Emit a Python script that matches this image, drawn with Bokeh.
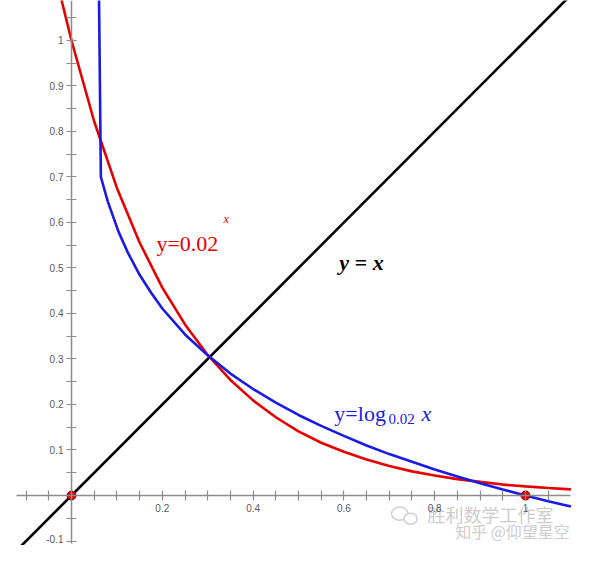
from bokeh.plotting import figure
from bokeh.models import LinearAxis, FixedTicker, Range1d
from bokeh.embed import file_html
from bokeh.resources import INLINE
from bokeh.core.properties import value

# ---- data ----
x_major_ticks = [0.2, 0.4, 0.6, 0.8, 1.0]
x_minor_ticks = [-0.1, -0.05, 0.05, 0.1, 0.15, 0.25, 0.3, 0.35, 0.45, 0.5, 0.55,
                 0.65, 0.7, 0.75, 0.85, 0.9, 0.95, 1.05]
y_major_ticks = [0.1, 0.2, 0.3, 0.4, 0.5, 0.6, 0.7, 0.8, 0.9, 1.0]
y_minor_ticks = [-0.1, -0.05, 0.05, 0.15, 0.25, 0.35, 0.45, 0.55, 0.65, 0.75, 0.85, 0.95, 1.05]
y_low_tick = [-0.1]
y_low_label = ["-0.1"]
tick_label_overrides = {1: "1"}

# y = 0.02^x (red)
exp_x = [-0.03, -0.02, 0.0, 0.05, 0.1, 0.15, 0.2, 0.25, 0.3, 0.35, 0.4, 0.45, 0.5,
         0.55, 0.6, 0.65, 0.7, 0.75, 0.8, 0.85, 0.9, 0.95, 1.0, 1.05, 1.1]
exp_y = [1.124, 1.081, 1.0, 0.822, 0.676, 0.556, 0.457, 0.376, 0.309, 0.254, 0.209,
         0.172, 0.141, 0.116, 0.096, 0.079, 0.065, 0.053, 0.044, 0.036, 0.030, 0.024,
         0.020, 0.0164, 0.0135]

# y = log_0.02 x (blue), drawn as a coarse polyline like the original
log_x = [0.0595, 0.0647, 0.08, 0.1035, 0.125, 0.15, 0.175, 0.2, 0.25, 0.3, 0.35,
         0.4, 0.45, 0.5, 0.55, 0.6, 0.65, 0.7, 0.75, 0.8, 0.85, 0.9, 0.95, 1.0, 1.05, 1.1]
log_y = [1.2, 0.70, 0.646, 0.580, 0.532, 0.485, 0.446, 0.411, 0.354, 0.308, 0.268,
         0.234, 0.204, 0.177, 0.153, 0.131, 0.110, 0.091, 0.074, 0.057, 0.042, 0.027,
         0.013, 0.0, -0.0125, -0.0244]

# y = x (black)
id_x = [-0.115, 1.2]
id_y = [-0.115, 1.2]

# marked points
pt_x = [0.0, 1.0]
pt_y = [0.0, 0.0]

# ---- figure ----
p = figure(width=584, height=545, output_backend="svg", toolbar_location=None,
           x_range=Range1d(-0.15639, 1.12996), y_range=Range1d(-0.10989, 1.08791),
           x_axis_type=None, y_axis_type=None, min_border=0,
           background_fill_color="white", border_fill_color="white")
p.grid.visible = False
p.outline_line_color = None

axis_color = "#8c8c8c"
label_color = "#5a5a5a"

xaxis = LinearAxis(fixed_location=0, bounds=(-0.121, 1.099),
                   ticker=FixedTicker(ticks=x_major_ticks, minor_ticks=x_minor_ticks))
yaxis = LinearAxis(fixed_location=0, bounds=(-0.105, 1.2),
                   ticker=FixedTicker(ticks=y_major_ticks, minor_ticks=y_minor_ticks))
for ax in (xaxis, yaxis):
    ax.axis_line_color = axis_color
    ax.axis_line_width = 1.5
    ax.major_tick_line_color = axis_color
    ax.minor_tick_line_color = axis_color
    ax.major_tick_line_width = 1.2
    ax.minor_tick_line_width = 1.2
    ax.major_tick_in = 5
    ax.major_tick_out = 5
    ax.minor_tick_in = 5
    ax.minor_tick_out = 5
    ax.major_label_text_font = "Liberation Sans"
    ax.major_label_text_font_size = "10px"
    ax.major_label_text_color = label_color
    ax.major_label_overrides = tick_label_overrides
xaxis.major_label_standoff = 4
yaxis.major_label_standoff = 3
p.add_layout(xaxis, "below")
p.add_layout(yaxis, "left")

# lowest y tick label (raised a little so it stays inside the page)
p.text(x=[0.0], y=y_low_tick, text=y_low_label, x_offset=-8, y_offset=-2,
       text_font=value("Liberation Sans"), text_font_size="10px", text_color=label_color,
       text_align="right", text_baseline="middle")

p.line(id_x, id_y, line_color="black", line_width=2.6)
p.line(exp_x, exp_y, line_color="#e60000", line_width=2.6)
p.line(log_x, log_y, line_color="#1a1ae6", line_width=2.6)
p.scatter(pt_x, pt_y, size=9, fill_color="#e00000", line_color="#8b0000", line_width=1)

serif = value("Liberation Serif")
# y=0.02^x
p.text(x=[0.187], y=[0.554], text=["y=0.02"], text_font=serif, text_font_size="22px",
       text_color="#e60000", text_baseline="alphabetic", text_align="left")
p.text(x=[0.335], y=[0.607], text=["x"], text_font=serif, text_font_size="12px",
       text_font_style="italic", text_color="#e60000", text_baseline="alphabetic")
# y = x
p.text(x=[0.590], y=[0.512], text=["y = x"], text_font=serif, text_font_size="22px",
       text_font_style="bold italic", text_color="black", text_baseline="alphabetic")
# y=log_0.02 x
p.text(x=[0.579], y=[0.180], text=["y=log"], text_font=serif, text_font_size="22px",
       text_color="#1a1ae6", text_baseline="alphabetic")
p.text(x=[0.698], y=[0.169], text=["0.02"], text_font=serif, text_font_size="15px",
       text_color="#1a1ae6", text_baseline="alphabetic")
p.text(x=[0.771], y=[0.180], text=["x"], text_font=serif, text_font_size="22px",
       text_font_style="italic", text_color="#1a1ae6", text_baseline="alphabetic")

# watermark
cjk = value("Noto Sans CJK SC")
p.ellipse(x=[0.723, 0.747], y=[-0.040, -0.051], width=[0.036, 0.029], height=[0.029, 0.024],
          fill_color="white", line_color="#cfcfcf", line_width=1.5)
p.text(x=[0.784], y=[-0.0396], text=["胜利数学工作室"], text_font=cjk, text_font_size="18px",
       text_color="#cdcdcd", text_baseline="middle")
p.text(x=[0.845], y=[-0.0780], text=["知乎 @仰望星空"], text_font=cjk, text_font_size="16px",
       text_color="#cdcdcd", text_baseline="middle")

open("out.html", "w").write(file_html(p, INLINE))
